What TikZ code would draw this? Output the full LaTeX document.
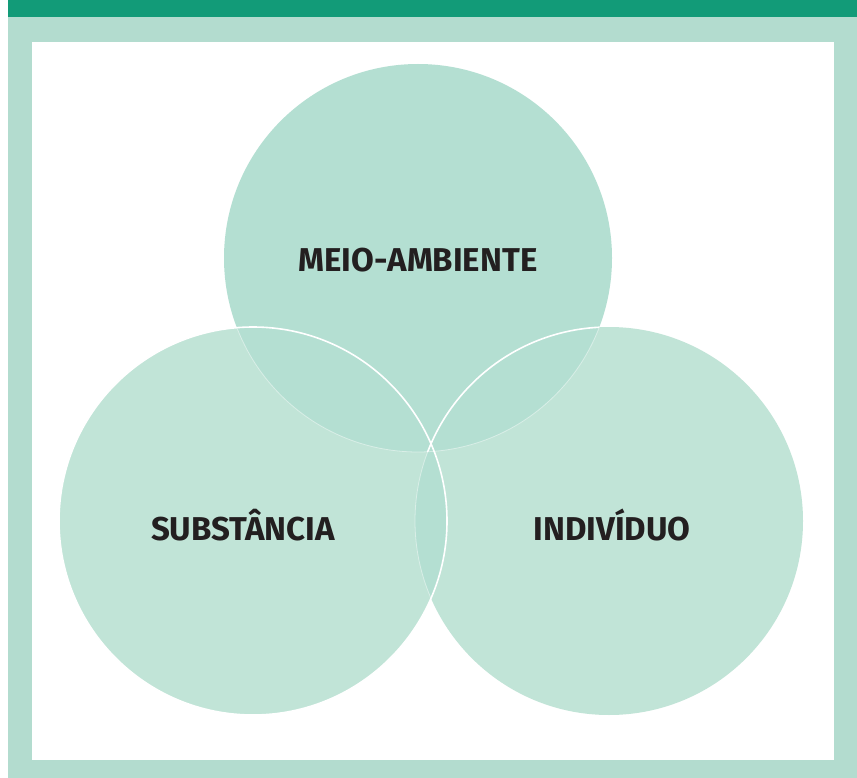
\documentclass[tikz,border=0pt]{standalone}
\usepackage{fontspec}
\setmainfont{Fira Sans}
\definecolor{barg}{HTML}{129B78}
\definecolor{frameg}{HTML}{B3DCCF}
\definecolor{topc}{HTML}{B4DFD2}
\definecolor{lowc}{HTML}{C1E4D7}
\definecolor{txt}{HTML}{231F20}
\begin{document}
\begin{tikzpicture}[x=1pt,y=-1pt,
  lbl/.style={font=\fontsize{33}{33}\selectfont\bfseries,text=txt,inner sep=0pt,anchor=base},
  faint/.style={draw=white,draw opacity=0.45,line width=0.8pt},
  bright/.style={draw=white,line width=1.6pt}]
\useasboundingbox (0,0) rectangle (857,778);
% frame
\fill[frameg] (8,17) rectangle (857,778);
\fill[barg] (8,0) rectangle (857,17);
\fill[white] (32,42) rectangle (834,760);
% circles
\coordinate (ct) at (418,258);
\coordinate (cl) at (253,521);
\coordinate (cr) at (609,521);
\def\rr{194}
\fill[lowc] (cl) circle (\rr);
\fill[lowc] (cr) circle (\rr);
\fill[topc] (ct) circle (\rr);
\begin{scope}
  \clip (cl) circle (\rr);
  \fill[topc] (cr) circle (\rr);
\end{scope}
% faint outlines
\begin{scope}
  \clip (cl) circle (\rr) (cr) circle (\rr);
  \draw[faint] (ct) circle (\rr);
\end{scope}
\begin{scope}
  \clip (cl) circle (\rr);
  \draw[faint] (cr) circle (\rr);
\end{scope}
% bright outlines
\draw[bright] (cl) circle (\rr);
\begin{scope}
  \clip (ct) circle (\rr);
  \draw[bright] (cr) circle (\rr);
\end{scope}
% labels
\node[lbl] (meio) at (418,272) {MEIO-AMBIENTE};
\node[lbl] (subs) at (243,540) {SUBSTÂNCIA};
\node[lbl] (indi) at (612,540) {INDIVÍDUO};
\end{tikzpicture}
\end{document}
